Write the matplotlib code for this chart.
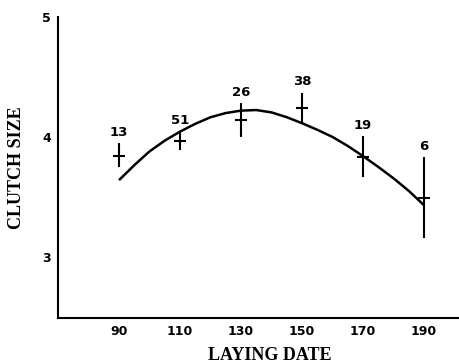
import matplotlib
matplotlib.use("Agg")
import matplotlib.pyplot as plt

# Observed means with error bars
dates = [90, 110, 130, 150, 170, 190]
means = [3.84, 3.97, 4.14, 4.24, 3.83, 3.49]
err_low = [0.09, 0.08, 0.14, 0.12, 0.16, 0.33]
err_high = [0.11, 0.08, 0.14, 0.13, 0.18, 0.34]
counts = ["13", "51", "26", "38", "19", "6"]

# Fitted curve
curve_x = [90, 95, 100, 105, 110, 115, 120, 125, 130, 135, 140,
           145, 150, 155, 160, 165, 170, 175, 180, 185, 190]
curve_y = [3.64, 3.765, 3.88, 3.97, 4.045, 4.11, 4.165, 4.20, 4.22, 4.225, 4.205,
           4.165, 4.115, 4.06, 4.00, 3.925, 3.84, 3.75, 3.655, 3.55, 3.43]

xticks = [90, 110, 130, 150, 170, 190]
yticks = [3, 4, 5]

fig = plt.figure(figsize=(4.59, 3.64), dpi=100)
ax = fig.add_axes([0.1264, 0.1264, 0.874, 0.8265])

ax.plot(curve_x, curve_y, color="black", lw=1.8, solid_joinstyle="round",
        solid_capstyle="butt")
ax.errorbar(dates, means, yerr=[err_low, err_high], fmt="none",
            ecolor="black", elinewidth=1.5, capsize=0)
ax.plot(dates, means, linestyle="none", marker="_", markersize=9,
        markeredgewidth=1.5, color="black")

for x, m, eh, c in zip(dates, means, err_high, counts):
    ax.annotate(c, (x, m + eh), xytext=(0, 3), textcoords="offset points",
                ha="center", va="bottom", fontsize=9.5, fontweight="bold",
                family="DejaVu Sans")

ax.set_xlim(70, 201.5)
ax.set_ylim(2.49, 5.0)
ax.set_xticks(xticks)
ax.set_yticks(yticks)
ax.set_xticklabels([str(t) for t in xticks], fontsize=9, fontweight="bold")
ax.set_yticklabels([str(t) for t in yticks], fontsize=9, fontweight="bold")
ax.tick_params(length=0)
ax.tick_params(axis="x", pad=5)
ax.tick_params(axis="y", pad=5)

for s in ["top", "right"]:
    ax.spines[s].set_visible(False)
for s in ["left", "bottom"]:
    ax.spines[s].set_linewidth(1.5)

fig.text(270 / 459, 1 - 355 / 364, "LAYING DATE", fontsize=13,
         fontweight="bold", family="Liberation Serif", ha="center", va="center")
fig.text(17 / 459, 1 - 168 / 364, "CLUTCH SIZE", fontsize=13, rotation=90,
         fontweight="bold", family="Liberation Serif", ha="center", va="center")

fig.savefig("out.png", dpi=100)
